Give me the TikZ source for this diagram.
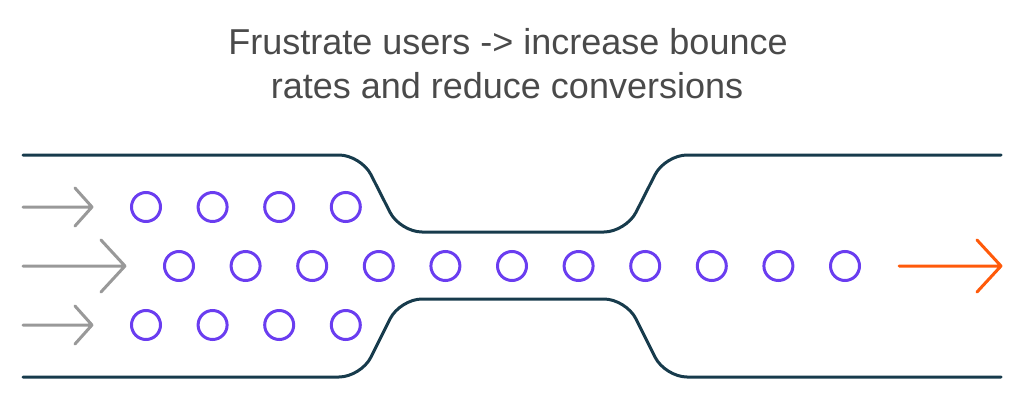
\documentclass[tikz,border=0pt]{standalone}
\usepackage{fontspec}
\setmainfont{Liberation Sans}
\usetikzlibrary{calc}
\definecolor{pipe}{HTML}{173B4C}
\definecolor{dot}{HTML}{6A3DF0}
\definecolor{inarrow}{HTML}{999999}
\definecolor{outarrow}{HTML}{FF5A0A}
\definecolor{titletext}{HTML}{4A4A4A}
\begin{document}
\begin{tikzpicture}[x=1pt,y=-1pt,
  pipeline/.style={draw=pipe,line width=3pt,line cap=round,rounded corners=22pt},
  dotnode/.style={circle,draw=dot,line width=3pt,minimum size=29pt,inner sep=0pt},
  flow/.style={line width=3pt,line cap=round,line join=round},
  titlenode/.style={font=\fontsize{36}{44}\selectfont,text=titletext,anchor=base,inner sep=0pt}]
\useasboundingbox (0,0) rectangle (1024,401);
\node[titlenode] (title1) at (508,55) {Frustrate users -> increase bounce};
\node[titlenode] (title2) at (507,99) {rates and reduce conversions};
% pipe outline
\draw[pipeline] (23,155) -- (361,155) -- (400,232) -- (626,232) -- (665,155) -- (1001,155);
\draw[pipeline] (23,377) -- (361,377) -- (400,299) -- (626,299) -- (665,377) -- (1001,377);
% dots
\foreach \i in {0,...,3} {
  \node[dotnode] (t\i) at ({146+66.6*\i},207) {};
  \node[dotnode] (b\i) at ({146+66.6*\i},325) {};
}
\foreach \i in {0,...,10} {
  \node[dotnode] (m\i) at ({179+66.6*\i},266) {};
}
% arrows
\coordinate (ta0) at (23,207); \coordinate (ta1) at (92,207);
\coordinate (ma0) at (23,266); \coordinate (ma1) at (125,266);
\coordinate (ba0) at (23,325); \coordinate (ba1) at (92,325);
\coordinate (oa0) at (899,266); \coordinate (oa1) at (1001,266);
\draw[flow,draw=inarrow] (ta0) -- (ta1) ($(ta1)+(-17,-19)$) -- (ta1) -- ($(ta1)+(-17,19)$);
\draw[flow,draw=inarrow] (ba0) -- (ba1) ($(ba1)+(-17,-19)$) -- (ba1) -- ($(ba1)+(-17,19)$);
\draw[flow,draw=inarrow] (ma0) -- (ma1) ($(ma1)+(-24,-26)$) -- (ma1) -- ($(ma1)+(-24,26)$);
\draw[flow,draw=outarrow] (oa0) -- (oa1) ($(oa1)+(-24,-26)$) -- (oa1) -- ($(oa1)+(-24,26)$);
\end{tikzpicture}
\end{document}
